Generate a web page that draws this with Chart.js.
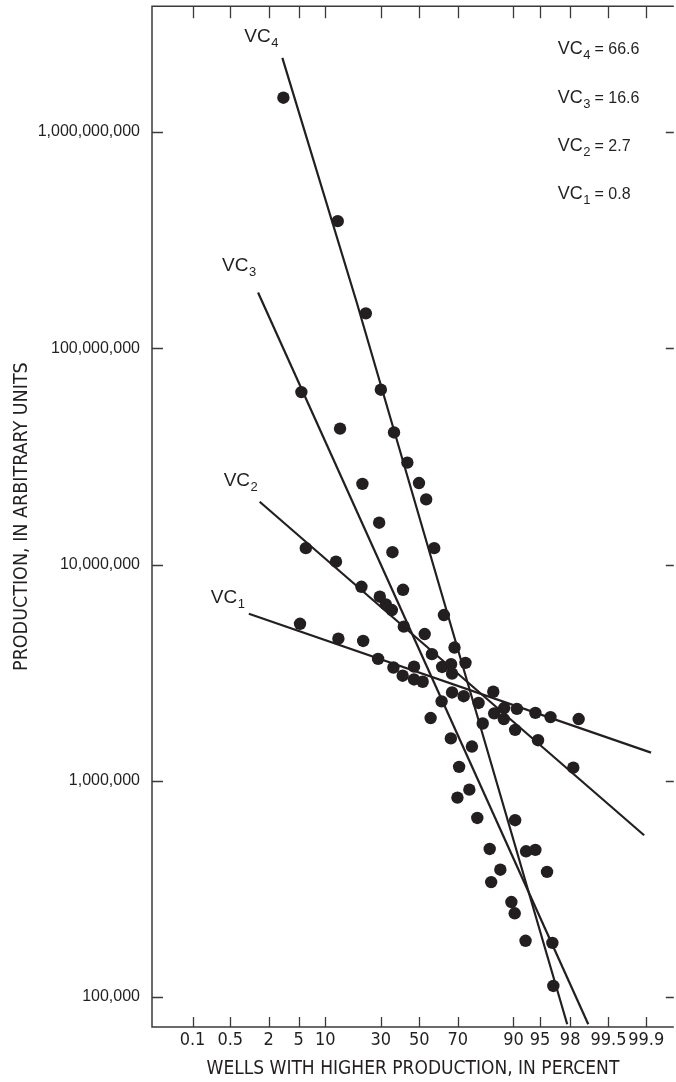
<!DOCTYPE html>
<html>
<head>
<meta charset="utf-8">
<script src="https://cdn.jsdelivr.net/npm/chart.js@4.4.1/dist/chart.umd.min.js"></script>
<style>
  html, body { margin: 0; padding: 0; background: #fff; overflow: hidden; }
  #wrap { width: 680px; height: 1082px; }
</style>
</head>
<body>
<div id="wrap"><canvas id="chart" width="680" height="1082"></canvas></div>
<script>
// axis ticks
const pctTicks = [0.1, 0.5, 2, 5, 10, 30, 50, 70, 90, 95, 98, 99.5, 99.9];
const valueTicks = [1e5, 1e6, 1e7, 1e8, 1e9];

// wells: percent with higher production, production
const vc4Pct = [3.2, 13.3, 23.3, 30.0, 36.5, 43.5, 49.8, 53.7, 58.0, 63.1, 68.4, 73.5, 79.0, 80.6, 90.4, 92.7, 94.3, 95.9, 96.6];
const vc4Val = [1.44e9, 3.87e8, 1.45e8, 6.43e7, 4.08e7, 2.96e7, 2.38e7, 2.00e7, 1.19e7, 5.84e6, 4.13e6, 3.51e6, 2.29e6, 1.84e6, 6.57e5, 4.72e5, 4.79e5, 3.79e5, 1.125e5];
const vc3Pct = [5.4, 14.0, 21.9, 29.2, 35.7, 41.2, 56.1, 61.9, 66.6, 69.8, 70.6, 75.2, 76.3, 78.5, 83.1, 83.6, 86.5, 89.5, 90.3, 92.6, 96.5];
const vc3Val = [6.27e7, 4.25e7, 2.36e7, 1.56e7, 1.14e7, 7.64e6, 1.95e6, 2.33e6, 1.57e6, 8.36e5, 1.16e6, 9.10e5, 1.44e6, 6.73e5, 4.84e5, 3.40e5, 3.88e5, 2.75e5, 2.44e5, 1.82e5, 1.78e5];
const vc2Pct = [6.1, 12.8, 21.5, 29.5, 32.4, 35.4, 41.6, 52.9, 56.8, 62.2, 66.7, 67.2, 84.6, 87.5, 87.6, 90.4, 94.7, 98.2];
const vc2Val = [1.19e7, 1.03e7, 7.89e6, 7.10e6, 6.54e6, 6.16e6, 5.16e6, 4.77e6, 3.85e6, 3.36e6, 3.46e6, 3.13e6, 2.05e6, 1.93e6, 2.17e6, 1.72e6, 1.54e6, 1.15e6];
const vc1Pct = [5.2, 13.5, 22.2, 28.7, 36.2, 41.0, 47.1, 47.1, 51.8, 67.2, 72.7, 84.3, 90.8, 94.3, 96.3, 98.5];
const vc1Val = [5.32e6, 4.54e6, 4.43e6, 3.66e6, 3.34e6, 3.06e6, 3.37e6, 2.94e6, 2.87e6, 2.56e6, 2.46e6, 2.58e6, 2.15e6, 2.06e6, 1.97e6, 1.93e6];

// fitted lines
const fitVc4Pct = [3.1, 19.6, 97.8];
const fitVc4Val = [2.2e9, 1.64e8, 7.49e4];
const fitVc3Pct = [1.4, 98.93];
const fitVc3Val = [1.81e8, 7.49e4];
const fitVc2Pct = [1.48, 99.89];
const fitVc2Val = [1.95e7, 5.6e5];
const fitVc1Pct = [1.01, 99.92];
const fitVc1Val = [5.92e6, 1.35e6];

const vcNames = ['4', '3', '2', '1'];
const vcCoefs = ['66.6', '16.6', '2.7', '0.8'];

const INK = '#231f20';
const NARROW = '"Liberation Sans Narrow", "DejaVu Sans Condensed", sans-serif';
const SANS = '"Liberation Sans", Arial, sans-serif';

// inverse normal cdf (Acklam)
function probit(p) {
  const a = [-39.69683028665376, 220.9460984245205, -275.9285104469687, 138.3577518672690, -30.66479806614716, 2.506628277459239];
  const b = [-54.47609879822406, 161.5858368580409, -155.6989798598866, 66.80131188771972, -13.28068155288572];
  const c = [-0.007784894002430293, -0.3223964580411365, -2.400758277161838, -2.549732539343734, 4.374664141464968, 2.938163982698783];
  const d = [0.007784695709041462, 0.3224671290700398, 2.445134137142996, 3.754408661907416];
  const pl = 0.02425;
  let q, r;
  if (p < pl) {
    q = Math.sqrt(-2 * Math.log(p));
    return (((((c[0]*q+c[1])*q+c[2])*q+c[3])*q+c[4])*q+c[5]) / ((((d[0]*q+d[1])*q+d[2])*q+d[3])*q+1);
  }
  if (p > 1 - pl) {
    q = Math.sqrt(-2 * Math.log(1 - p));
    return -(((((c[0]*q+c[1])*q+c[2])*q+c[3])*q+c[4])*q+c[5]) / ((((d[0]*q+d[1])*q+d[2])*q+d[3])*q+1);
  }
  q = p - 0.5; r = q * q;
  return (((((a[0]*r+a[1])*r+a[2])*r+a[3])*r+a[4])*r+a[5])*q / (((((b[0]*r+b[1])*r+b[2])*r+b[3])*r+b[4])*r+1);
}

const toXY = (pcts, vals) => pcts.map((p, i) => ({ x: probit(p / 100), y: vals[i] }));

const dots = (label, pcts, vals) => ({
  type: 'scatter', label, data: toXY(pcts, vals),
  pointRadius: 6.2, pointBackgroundColor: INK, pointBorderWidth: 0
});
const fit = (label, pcts, vals) => ({
  type: 'line', label, data: toXY(pcts, vals),
  borderColor: INK, borderWidth: 2.2, pointRadius: 0, fill: false, tension: 0
});

// label offsets from the start of each fitted line (VC4..VC1)
const labelOffsets = [[-38, -16], [-36, -22], [-36, -16], [-38, -11]];

function drawVC(ctx, x, y, sub, size, subSize, tail, tailSize) {
  ctx.font = `${size}px ${SANS}`;
  ctx.fillText('VC', x, y);
  let cx = x + ctx.measureText('VC').width + 0.5;
  ctx.font = `${subSize}px ${SANS}`;
  ctx.fillText(sub, cx, y + Math.round(subSize * 0.4));
  cx += ctx.measureText(sub).width;
  if (tail) {
    ctx.font = `${tailSize}px ${SANS}`;
    ctx.fillText(tail, cx + 4, y);
  }
}

// drop the extra room Chart.js keeps for the end tick labels
const noEdgePad = s => { s.paddingTop = 0; s.paddingBottom = 0; s.paddingLeft = 0; s.paddingRight = 0; };

const framePlugin = {
  id: 'frame',
  beforeDatasetsDraw(chart) {
    const { ctx, chartArea: a, scales: { x, y } } = chart;
    ctx.save();
    ctx.strokeStyle = '#3a3a3a';
    ctx.lineWidth = 1.5;
    ctx.beginPath();
    ctx.moveTo(a.right, a.top); ctx.lineTo(a.left, a.top);
    ctx.lineTo(a.left, a.bottom); ctx.lineTo(a.right, a.bottom);
    ctx.stroke();
    ctx.lineWidth = 1.3;
    ctx.beginPath();
    pctTicks.forEach(p => {
      const px = Math.round(x.getPixelForValue(probit(p / 100))) + 0.5;
      ctx.moveTo(px, a.top); ctx.lineTo(px, a.top + 12);
      ctx.moveTo(px, a.bottom); ctx.lineTo(px, a.bottom - 10);
    });
    valueTicks.forEach(v => {
      const py = Math.round(y.getPixelForValue(v)) + 0.5;
      ctx.moveTo(a.left, py); ctx.lineTo(a.left + 11, py);
      ctx.moveTo(a.right, py); ctx.lineTo(a.right - 8, py);
    });
    ctx.stroke();
    ctx.restore();
  },
  afterDatasetsDraw(chart) {
    const { ctx, chartArea: a, scales: { x, y } } = chart;
    const starts = [[fitVc4Pct, fitVc4Val], [fitVc3Pct, fitVc3Val], [fitVc2Pct, fitVc2Val], [fitVc1Pct, fitVc1Val]];
    ctx.save();
    ctx.fillStyle = INK;
    ctx.textBaseline = 'alphabetic';
    ctx.textAlign = 'left';
    starts.forEach(([pc, vl], i) => {
      const sx = x.getPixelForValue(probit(pc[0] / 100));
      const sy = y.getPixelForValue(vl[0]);
      drawVC(ctx, sx + labelOffsets[i][0], sy + labelOffsets[i][1], vcNames[i], 19, 13);
    });
    vcNames.forEach((n, i) => {
      drawVC(ctx, a.right - 116, a.top + 48 + i * 48.3, n, 18, 13, '= ' + vcCoefs[i], 16);
    });
    ctx.restore();
  }
};

new Chart(document.getElementById('chart'), {
  type: 'scatter',
  data: {
    datasets: [
      fit('VC4 fit', fitVc4Pct, fitVc4Val),
      fit('VC3 fit', fitVc3Pct, fitVc3Val),
      fit('VC2 fit', fitVc2Pct, fitVc2Val),
      fit('VC1 fit', fitVc1Pct, fitVc1Val),
      dots('VC4', vc4Pct, vc4Val),
      dots('VC3', vc3Pct, vc3Val),
      dots('VC2', vc2Pct, vc2Val),
      dots('VC1', vc1Pct, vc1Val)
    ]
  },
  options: {
    responsive: false,
    animation: false,
    devicePixelRatio: 1,
    layout: { padding: { top: 4, right: 2, left: 0, bottom: 0 } },
    plugins: { legend: { display: false }, tooltip: { enabled: false } },
    scales: {
      x: {
        type: 'linear', min: -3.642, max: 3.466,
        afterBuildTicks: s => { s.ticks = pctTicks.map(p => ({ value: probit(p / 100) })); },
        afterFit: s => { s.height = 55; noEdgePad(s); },
        grid: { display: false, tickLength: 0 }, border: { display: false },
        ticks: { autoSkip: false, maxRotation: 0, padding: 3, color: INK, font: { family: NARROW, size: 18 },
          callback: (v, i) => String(pctTicks[i]) },
        title: { display: true, text: 'WELLS WITH HIGHER PRODUCTION, IN PERCENT', color: INK,
          font: { family: NARROW, size: 19 }, padding: { top: 0, bottom: 2 } }
      },
      y: {
        type: 'logarithmic', min: 72700, max: 3.815e9,
        afterBuildTicks: s => { s.ticks = valueTicks.map(v => ({ value: v })); },
        afterFit: s => { s.width = 152; noEdgePad(s); },
        grid: { display: false, tickLength: 0 }, border: { display: false },
        ticks: { autoSkip: false, padding: 12, color: INK, font: { family: SANS, size: 16 },
          callback: v => Number(v).toLocaleString('en-US') },
        title: { display: true, text: 'PRODUCTION, IN ARBITRARY UNITS', color: INK,
          font: { family: NARROW, size: 19.5 }, padding: { top: 10, bottom: 0 } }
      }
    }
  },
  plugins: [framePlugin]
});
</script>
</body>
</html>
